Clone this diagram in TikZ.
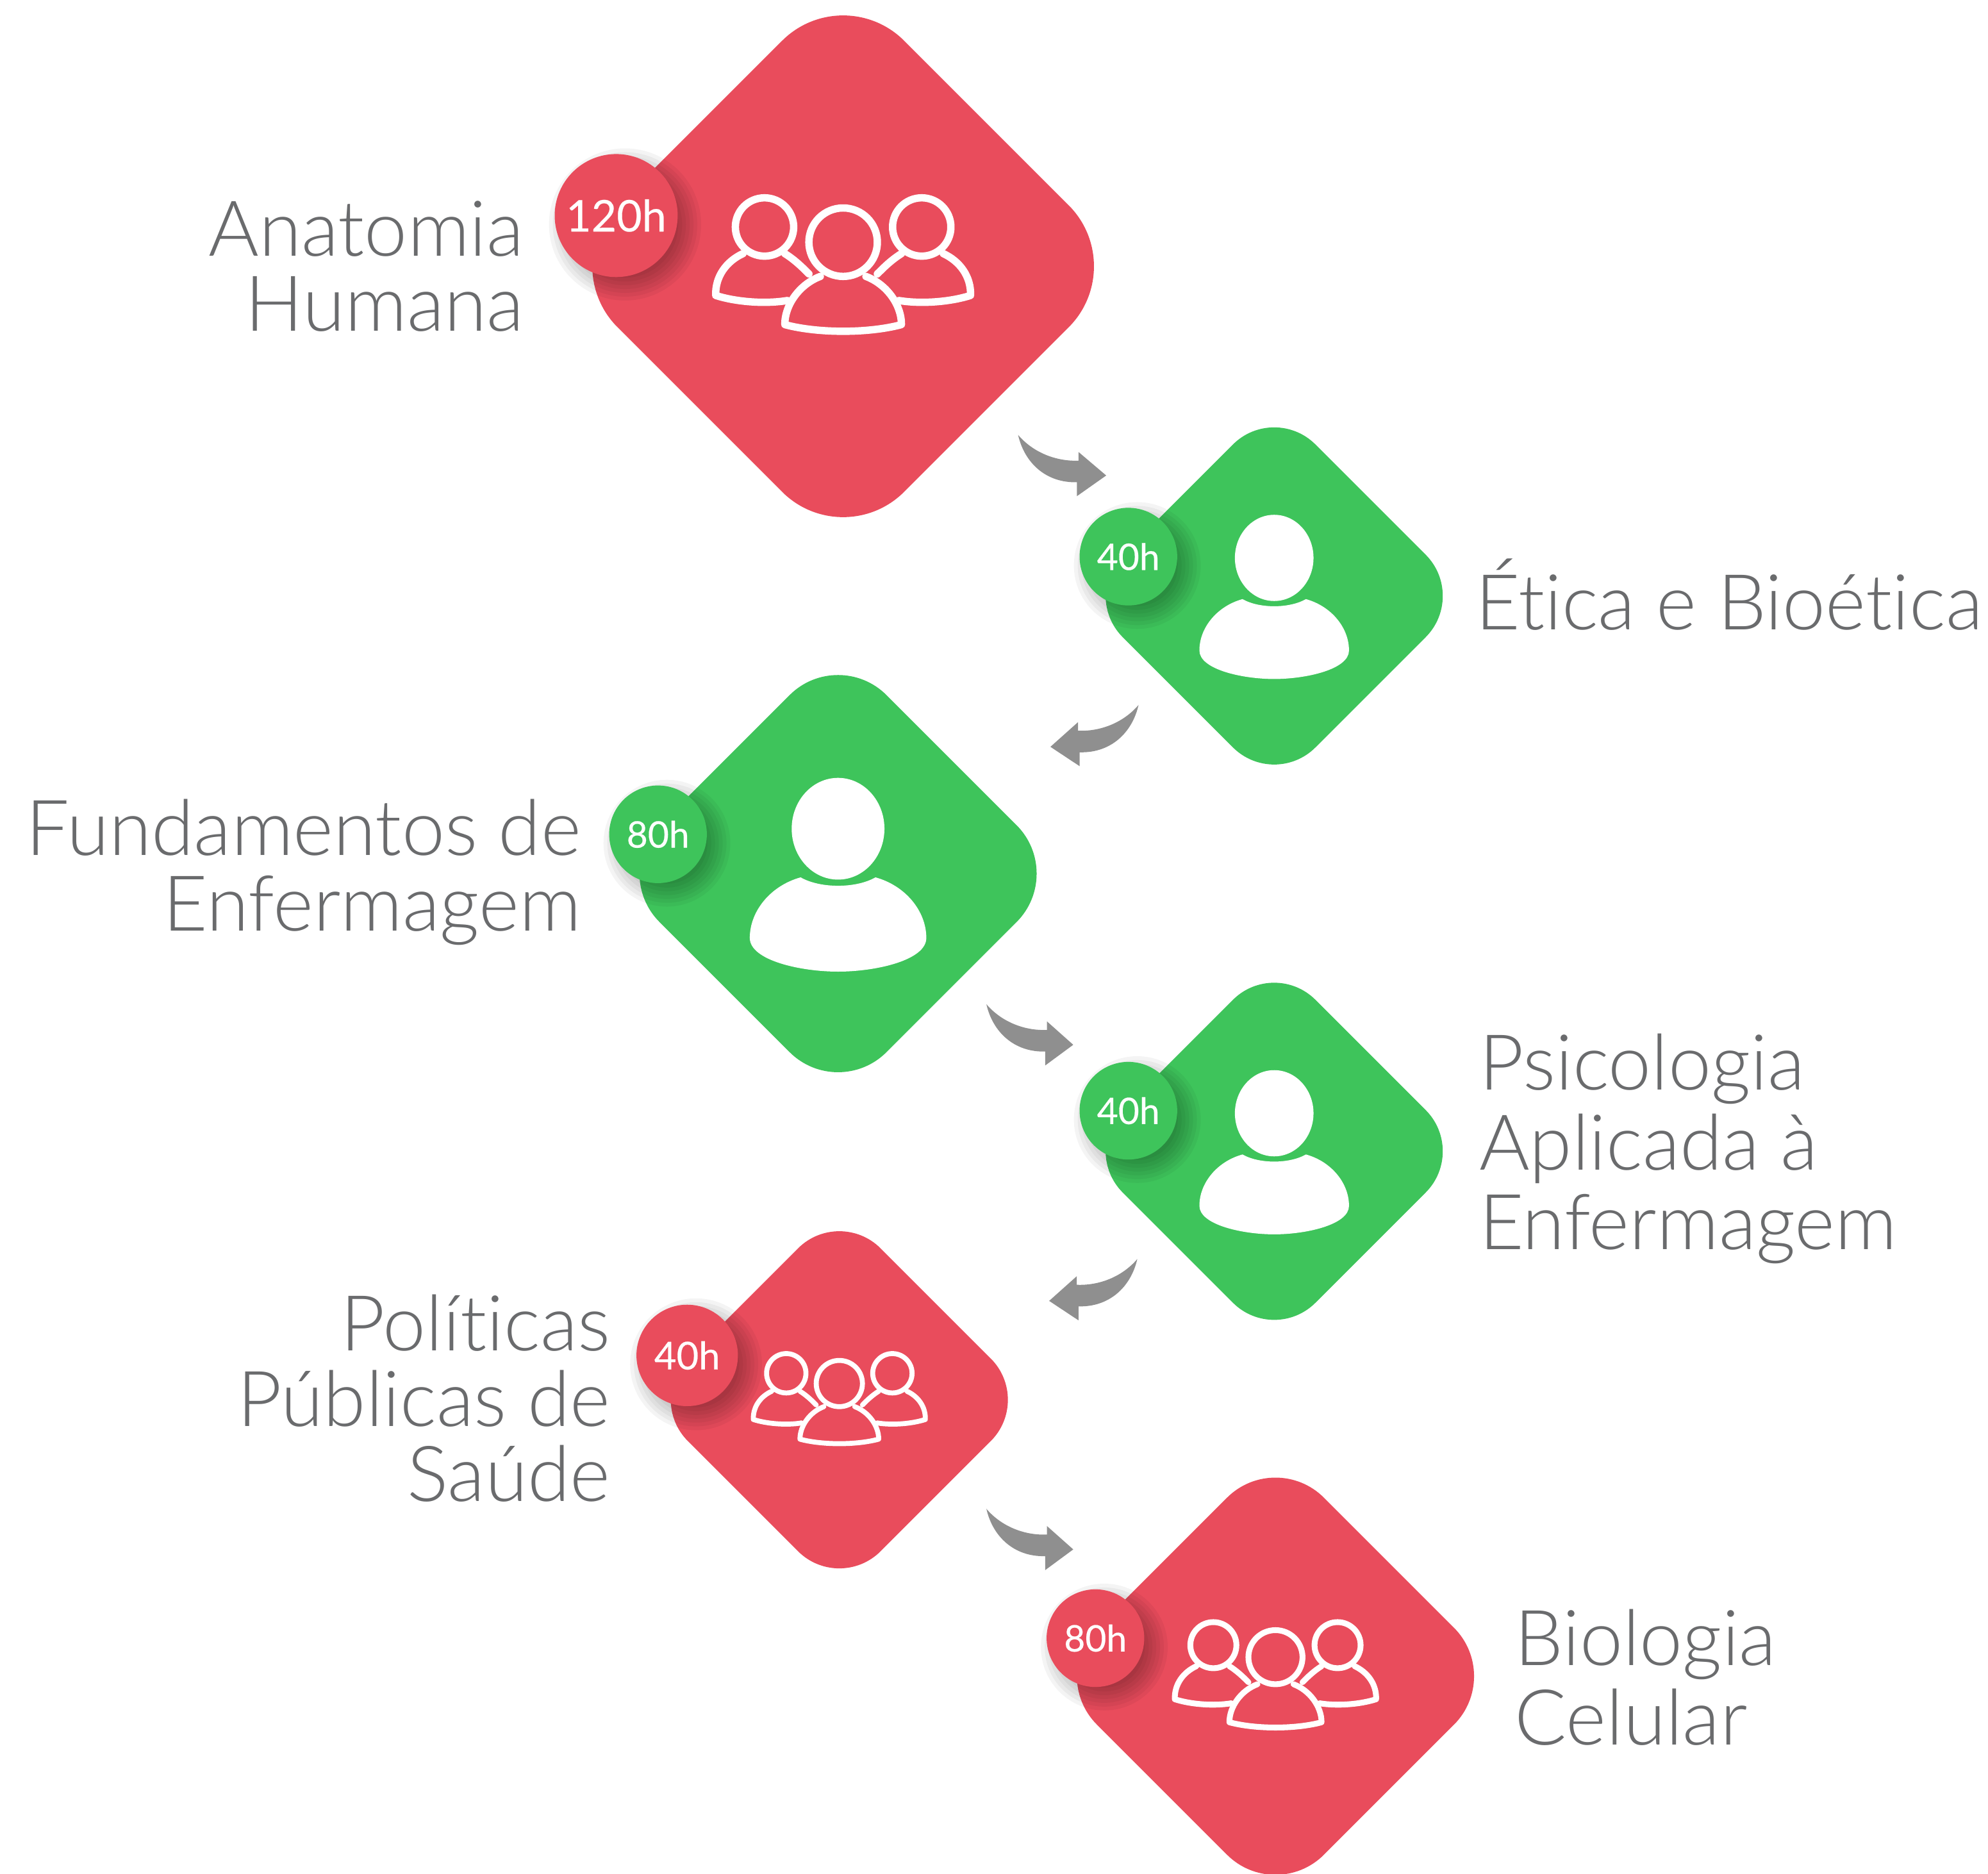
\documentclass[tikz,border=0pt]{standalone}
\usepackage{fontspec}
\setmainfont{Lato Light}[Ligatures=NoCommon]
\newfontfamily\badgefont{Lato}[FakeBold=0.3]
\usetikzlibrary{calc,shapes.geometric}
\definecolor{rosered}{RGB}{233,76,92}
\definecolor{leafgreen}{RGB}{62,196,91}
\definecolor{labelgrey}{RGB}{106,107,109}
\definecolor{swoopgrey}{RGB}{143,143,143}
\tikzset{
    rhomb/.style={shape=diamond, aspect=1, inner sep=0pt, outer sep=0pt},
    bigrhomb/.style={rhomb, minimum size=45.2mm, rounded corners=6.8mm},
    midrhomb/.style={rhomb, minimum size=35.8mm, rounded corners=5.4mm},
    lowrhomb/.style={rhomb, minimum size=30.4mm, rounded corners=4.6mm},
    badge/.style={circle, inner sep=0pt, text=white, minimum size=#1},
    badgetext/.style={font=\badgefont\fontsize{#1}{#1}\selectfont},
    leftlabel/.style={anchor=east, align=right, inner sep=0pt, text=labelgrey, font=\fontsize{17.3}{16.9}\selectfont},
    rightlabel/.style={anchor=west, align=left, inner sep=0pt, text=labelgrey, font=\fontsize{17.3}{17.9}\selectfont},
    iconline/.style={draw=white, line join=round, line cap=round},
    swoop/.style={fill=swoopgrey, to path={
        (\tikztostart) .. controls ($(\tikztostart)+(5,22)$) and ($(\tikztostart)+(22,38)$) .. ($(\tikztostart)+(46.4,37.3)$)
        -- ($(\tikztostart)+(46.4,48.3)$) -- (\tikztotarget) -- ($(\tikztostart)+(47.7,13.5)$) -- ($(\tikztostart)+(47.7,20.3)$)
        .. controls ($(\tikztostart)+(30,21)$) and ($(\tikztostart)+(12,14)$) .. (\tikztostart)}},
}
\newcommand{\softshadow}[2]{
    \foreach \g in {-6,-3,...,12}
        \fill[black, opacity=.045] ($(#1)+(7,7)$) circle ({#2+\g});
}
\newcommand{\groupicon}[2]{
    \begin{scope}[shift={(#1)}, scale=#2, line width={#2*0.58mm}]
        \draw[iconline] (0,-19) circle (27);
        \draw[iconline] (-62,-31) circle (23);
        \draw[iconline] (62,-31) circle (23);
        \draw[iconline] (-18,8) .. controls (-34,14) and (-46,30) .. (-46,46)
            .. controls (-20,53) and (20,53) .. (46,46) .. controls (46,30) and (34,14) .. (18,8);
        \draw[iconline] (-79,-10) .. controls (-92,-4) and (-101,8) .. (-100.5,23)
            .. controls (-85,28) and (-62,30) .. (-44,27);
        \draw[iconline] (79,-10) .. controls (92,-4) and (101,8) .. (100.5,23)
            .. controls (85,28) and (62,30) .. (44,27);
        \draw[iconline] (-46,-10) .. controls (-38,-5) and (-32,1) .. (-27,6);
        \draw[iconline] (46,-10) .. controls (38,-5) and (32,1) .. (27,6);
    \end{scope}
}
\newcommand{\personicon}[2]{
    \begin{scope}[shift={(#1)}, scale=#2]
        \fill[white] (0,-30) ellipse (31 and 34);
        \fill[white] (-25,2.5) .. controls (-12,10) and (12,10) .. (25,2.5)
            .. controls (45,8) and (59,25) .. (59,43) .. controls (59,58) and (25,65.5) .. (0,65.5)
            .. controls (-25,65.5) and (-59,58) .. (-59,43) .. controls (-59,25) and (-45,8) .. (-25,2.5) -- cycle;
    \end{scope}
}

\begin{document}
\begin{tikzpicture}[x=0.1mm, y=-0.1mm]
    \useasboundingbox (0,0) rectangle (1568,1478);
    % rhombs
    \node[bigrhomb, fill=rosered] (anatomia) at (665,210) {};
    \node[lowrhomb, fill=leafgreen] (etica) at (1005,470) {};
    \node[midrhomb, fill=leafgreen] (fundamentos) at (661,689) {};
    \node[lowrhomb, fill=leafgreen] (psicologia) at (1005,908) {};
    \node[lowrhomb, fill=rosered] (politicas) at (662,1104) {};
    \node[midrhomb, fill=rosered] (biologia) at (1006,1322) {};
    % icons
    \groupicon{anatomia}{1}
    \personicon{etica}{1}
    \personicon{fundamentos}{1.18}
    \personicon{psicologia}{1}
    \groupicon{politicas}{0.675}
    \groupicon{biologia}{0.79}
    % hours
    \coordinate (h1) at (486,170);
    \coordinate (h2) at (890,439);
    \coordinate (h3) at (519,658);
    \coordinate (h4) at (890,876);
    \coordinate (h5) at (542,1069);
    \coordinate (h6) at (864,1292);
    \softshadow{h1}{48}
    \softshadow{h2}{38}
    \softshadow{h3}{38}
    \softshadow{h4}{38}
    \softshadow{h5}{40}
    \softshadow{h6}{38}
    \node[badge=9.7mm, fill=rosered, badgetext=9.8] (b1) at (h1) {120h};
    \node[badge=7.7mm, fill=leafgreen, badgetext=8.2] (b2) at (h2) {40h};
    \node[badge=7.7mm, fill=leafgreen, badgetext=8.2] (b3) at (h3) {80h};
    \node[badge=7.7mm, fill=leafgreen, badgetext=8.2] (b4) at (h4) {40h};
    \node[badge=8mm, fill=rosered, badgetext=8.6] (b5) at (h5) {40h};
    \node[badge=7.7mm, fill=rosered, badgetext=8.2] (b6) at (h6) {80h};
    % labels
    \node[leftlabel] (l1) at (414,210) {Anatomia\\Humana};
    \node[rightlabel] (l2) at (1163,469) {Ética e Bioética};
    \node[leftlabel] (l3) at (459,688) {Fundamentos de\\Enfermagem};
    \node[rightlabel] (l4) at (1166,906) {Psicologia\\Aplicada à\\Enfermagem};
    \node[leftlabel] (l5) at (482,1103) {Políticas\\Públicas de\\Saúde};
    \node[rightlabel] (l6) at (1194,1323) {Biologia\\Celular};
    % arrows
    \coordinate (s1) at (803,343);
    \coordinate (t1) at (872.5,375);
    \coordinate (s2) at (898,556);
    \coordinate (t2) at (828.5,589);
    \coordinate (s3) at (778,792);
    \coordinate (t3) at (846.5,824);
    \coordinate (s4) at (897,993);
    \coordinate (t4) at (827.5,1026);
    \coordinate (s5) at (778,1190);
    \coordinate (t5) at (846.5,1222);
    \fill[swoop] (s1) to (t1);
    \fill[swoop, xscale=-1] (s2) to (t2);
    \fill[swoop] (s3) to (t3);
    \fill[swoop, xscale=-1] (s4) to (t4);
    \fill[swoop] (s5) to (t5);
\end{tikzpicture}
\end{document}
